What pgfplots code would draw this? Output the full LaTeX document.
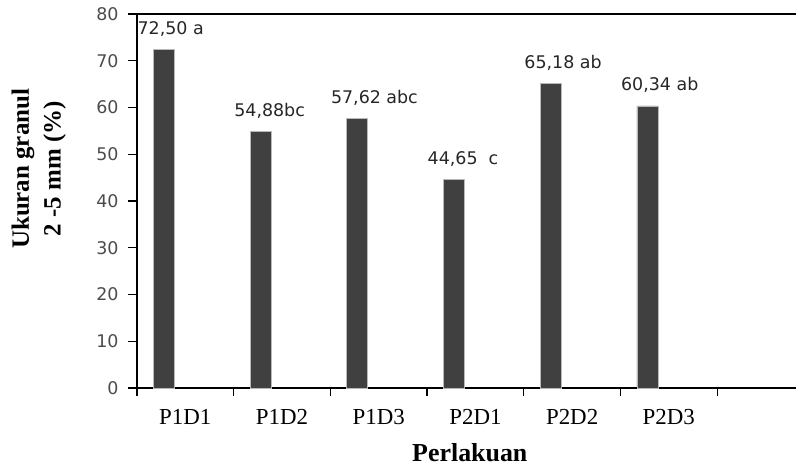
\documentclass[border=0pt]{standalone}
\usepackage{pgfplots}
\usepackage{pgfplotstable}
\pgfplotsset{compat=1.18}
\usepackage{fontspec}
\setmainfont{Liberation Serif}
\newfontfamily\dejavu{DejaVu Sans}
\definecolor{barfill}{RGB}{64,64,64}
\definecolor{tickgray}{RGB}{75,75,75}

\pgfplotstableread{
x y lbl
0 72.50 {72,50 a}
1 54.88 {54,88bc}
2 57.62 {57,62 abc}
3 44.65 {44,65\ \ c}
4 65.18 {65,18 ab}
5 60.34 {60,34 ab}
}\granul

\begin{document}
\begin{tikzpicture}
\begin{axis}[
    scale only axis,
    width=659bp, height=374bp,
    xmin=-0.5, xmax=6.315,
    ymin=0, ymax=80,
    axis x line*=bottom,
    axis y line*=left,
    axis line style={line width=1.2bp, black},
    ytick={0,10,...,80},
    xtick={0,...,5},
    xticklabels={P1D1,P1D2,P1D3,P2D1,P2D2,P2D3},
    major x tick style={draw=none},
    minor xtick={-0.5,0.5,...,5.5},
    minor tick length=8bp,
    major tick length=9bp,
    tick align=outside,
    tick style={line width=1.2bp, black},
    /pgf/number format/assume math mode=true,
    yticklabel style={font=\dejavu\fontsize{17.5}{17.5}\selectfont, text=tickgray, xshift=-6bp},
    xticklabel style={font=\fontsize{23}{23}\selectfont, yshift=-9bp},
    xlabel={\textbf{Perlakuan}},
    xlabel style={font=\fontsize{26}{26}\selectfont, at={(axis description cs:0.505,-0.172)}, anchor=center},
    ylabel={\textbf{Ukuran granul}\\\textbf{2 -5 mm (\%)}},
    ylabel style={font=\fontsize{25}{32}\selectfont, align=center, at={(axis description cs:-0.149,0.586)}, anchor=center},
    clip=false,
]
\addplot[
    ybar, bar width=21bp, bar shift=-21.5bp,
    fill=barfill, draw=gray!55, line width=0.6bp,
    point meta=explicit symbolic,
    nodes near coords,
    nodes near coords style={font=\dejavu\fontsize{17.5}{17.5}\selectfont, text=black!85,
        anchor=base west, inner sep=0pt, xshift=-48bp, yshift=15bp},
] table[x=x, y=y, meta=lbl] {\granul};
\draw[line width=1.2bp, black] (rel axis cs:0,1) -- (rel axis cs:1,1);
\coordinate (O) at (rel axis cs:0,0);
\end{axis}
\pgfresetboundingbox
\path ([shift={(-137bp,-79bp)}]O) rectangle ++(796bp,467bp);
\end{tikzpicture}
\end{document}
